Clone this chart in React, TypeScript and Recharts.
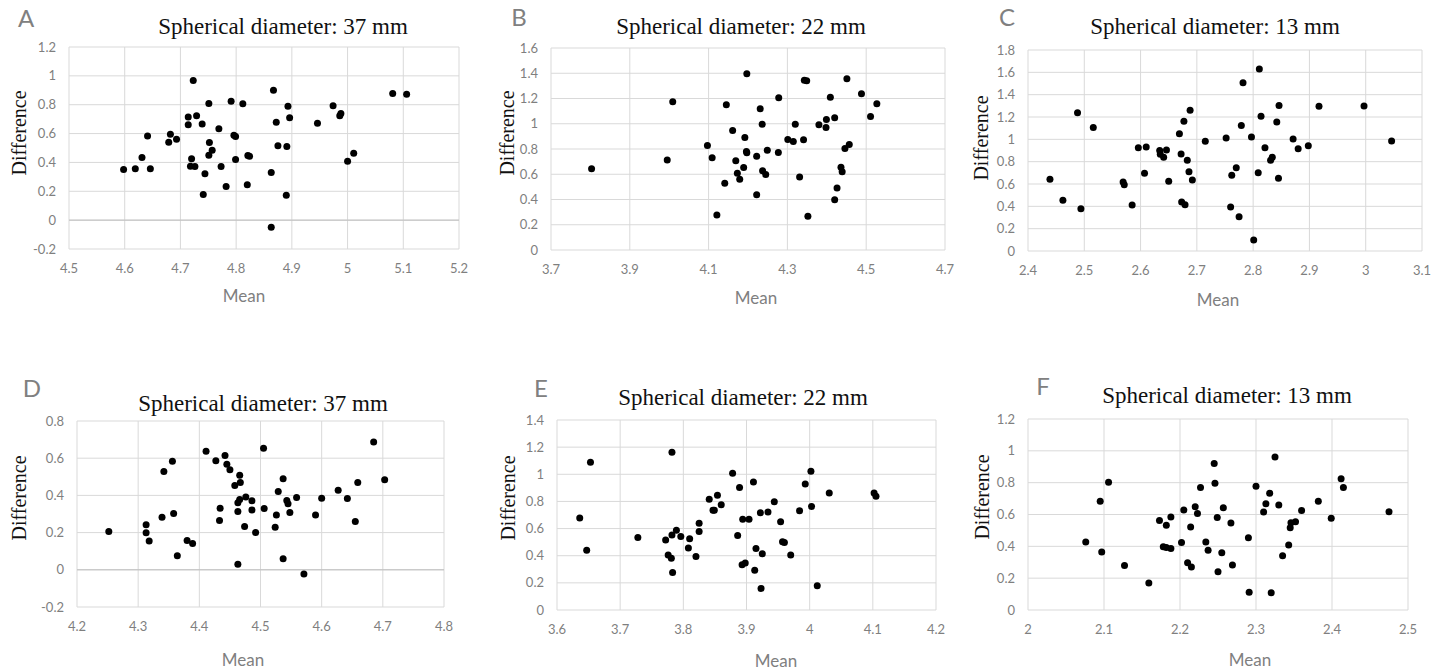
import React from 'react'
import { ScatterChart, Scatter, XAxis, YAxis, CartesianGrid, ReferenceLine } from 'recharts'

// A – 37 mm
const meanA = [4.598, 4.619, 4.631, 4.646, 4.641, 4.682, 4.679, 4.693, 4.714, 4.714, 4.723, 4.729, 4.72, 4.718, 4.726, 4.739, 4.744, 4.741, 4.751, 4.752, 4.757, 4.751, 4.769, 4.773, 4.782, 4.791, 4.796, 4.799, 4.799, 4.812, 4.82, 4.821, 4.824, 4.867, 4.872, 4.875, 4.863, 4.863, 4.891, 4.893, 4.896, 4.89, 4.946, 4.974, 4.986, 4.988, 5.0, 5.011, 5.081, 5.106]
const diffA = [0.351, 0.356, 0.434, 0.356, 0.584, 0.596, 0.54, 0.561, 0.714, 0.661, 0.968, 0.723, 0.425, 0.374, 0.372, 0.667, 0.321, 0.178, 0.808, 0.538, 0.485, 0.45, 0.633, 0.372, 0.233, 0.824, 0.589, 0.58, 0.42, 0.806, 0.245, 0.448, 0.443, 0.9, 0.679, 0.515, 0.33, -0.049, 0.51, 0.79, 0.709, 0.173, 0.672, 0.792, 0.723, 0.739, 0.409, 0.464, 0.878, 0.873]

// B – 22 mm
const meanB = [3.803, 3.995, 4.009, 4.097, 4.109, 4.121, 4.141, 4.145, 4.161, 4.169, 4.173, 4.179, 4.189, 4.192, 4.196, 4.197, 4.197, 4.222, 4.222, 4.231, 4.236, 4.237, 4.245, 4.249, 4.278, 4.277, 4.301, 4.315, 4.32, 4.331, 4.341, 4.343, 4.349, 4.352, 4.38, 4.398, 4.399, 4.409, 4.42, 4.42, 4.426, 4.436, 4.439, 4.446, 4.457, 4.451, 4.488, 4.511, 4.527]
const diffB = [0.643, 0.712, 1.175, 0.828, 0.73, 0.278, 0.529, 1.151, 0.947, 0.706, 0.608, 0.561, 0.653, 0.892, 0.78, 0.77, 1.397, 0.437, 0.743, 1.119, 0.997, 0.627, 0.598, 0.791, 1.206, 0.772, 0.876, 0.86, 0.997, 0.579, 0.873, 1.344, 1.341, 0.267, 0.992, 0.971, 1.034, 1.209, 1.048, 0.399, 0.492, 0.656, 0.619, 0.804, 0.836, 1.357, 1.238, 1.058, 1.159]

// C – 13 mm
const meanC = [2.439, 2.462, 2.488, 2.494, 2.516, 2.569, 2.571, 2.585, 2.596, 2.61, 2.607, 2.634, 2.635, 2.641, 2.646, 2.65, 2.669, 2.672, 2.677, 2.673, 2.679, 2.683, 2.686, 2.688, 2.692, 2.715, 2.752, 2.76, 2.762, 2.77, 2.775, 2.779, 2.782, 2.797, 2.801, 2.809, 2.811, 2.814, 2.821, 2.831, 2.834, 2.842, 2.845, 2.846, 2.871, 2.88, 2.898, 2.917, 2.997, 3.046]
const diffC = [0.642, 0.454, 1.239, 0.379, 1.107, 0.618, 0.594, 0.412, 0.925, 0.931, 0.696, 0.901, 0.866, 0.839, 0.904, 0.624, 1.051, 0.869, 1.161, 0.439, 0.415, 0.812, 0.71, 1.26, 0.636, 0.982, 1.012, 0.394, 0.678, 0.746, 0.307, 1.125, 1.507, 1.021, 0.099, 0.701, 1.63, 1.206, 0.925, 0.812, 0.839, 1.155, 0.651, 1.304, 1.003, 0.916, 0.943, 1.296, 1.299, 0.985]

// D – 37 mm
const meanD = [4.252, 4.313, 4.313, 4.318, 4.339, 4.342, 4.356, 4.358, 4.364, 4.38, 4.389, 4.411, 4.427, 4.434, 4.433, 4.442, 4.445, 4.45, 4.458, 4.466, 4.467, 4.463, 4.466, 4.463, 4.463, 4.474, 4.476, 4.486, 4.486, 4.492, 4.505, 4.506, 4.524, 4.526, 4.529, 4.537, 4.537, 4.543, 4.545, 4.548, 4.559, 4.571, 4.59, 4.6, 4.627, 4.642, 4.655, 4.659, 4.685, 4.703]
const diffD = [0.206, 0.242, 0.199, 0.155, 0.283, 0.529, 0.583, 0.303, 0.075, 0.157, 0.141, 0.637, 0.586, 0.331, 0.265, 0.615, 0.568, 0.538, 0.453, 0.509, 0.47, 0.36, 0.378, 0.313, 0.03, 0.233, 0.392, 0.371, 0.321, 0.2, 0.654, 0.33, 0.229, 0.295, 0.421, 0.489, 0.06, 0.373, 0.355, 0.308, 0.389, -0.022, 0.294, 0.385, 0.428, 0.383, 0.26, 0.47, 0.687, 0.484]

// E – 22 mm
const meanE = [3.636, 3.647, 3.653, 3.728, 3.772, 3.776, 3.781, 3.782, 3.782, 3.783, 3.789, 3.796, 3.808, 3.81, 3.82, 3.825, 3.825, 3.841, 3.847, 3.849, 3.854, 3.86, 3.878, 3.886, 3.889, 3.893, 3.898, 3.894, 3.904, 3.911, 3.913, 3.915, 3.922, 3.923, 3.925, 3.934, 3.944, 3.954, 3.957, 3.96, 3.97, 3.984, 3.993, 4.002, 4.003, 4.012, 4.031, 4.102, 4.105]
const diffE = [0.677, 0.441, 1.089, 0.534, 0.515, 0.405, 0.382, 1.162, 0.552, 0.277, 0.588, 0.542, 0.456, 0.525, 0.395, 0.64, 0.579, 0.816, 0.735, 0.735, 0.846, 0.775, 1.008, 0.549, 0.902, 0.333, 0.346, 0.669, 0.669, 0.944, 0.292, 0.454, 0.716, 0.159, 0.414, 0.723, 0.797, 0.65, 0.503, 0.498, 0.405, 0.731, 0.929, 1.022, 0.762, 0.179, 0.863, 0.863, 0.838]

// F – 13 mm
const meanF = [2.076, 2.095, 2.097, 2.106, 2.127, 2.159, 2.173, 2.178, 2.182, 2.182, 2.188, 2.188, 2.202, 2.205, 2.21, 2.214, 2.215, 2.22, 2.223, 2.227, 2.234, 2.237, 2.245, 2.246, 2.249, 2.25, 2.255, 2.257, 2.267, 2.269, 2.29, 2.291, 2.3, 2.31, 2.313, 2.318, 2.32, 2.325, 2.33, 2.335, 2.343, 2.345, 2.346, 2.352, 2.36, 2.382, 2.399, 2.412, 2.415, 2.475]
const diffF = [0.427, 0.684, 0.364, 0.803, 0.28, 0.169, 0.562, 0.397, 0.533, 0.393, 0.387, 0.585, 0.424, 0.629, 0.297, 0.521, 0.27, 0.648, 0.606, 0.769, 0.427, 0.376, 0.92, 0.797, 0.581, 0.24, 0.36, 0.642, 0.546, 0.282, 0.454, 0.111, 0.778, 0.615, 0.667, 0.734, 0.109, 0.962, 0.659, 0.341, 0.408, 0.516, 0.548, 0.554, 0.625, 0.684, 0.577, 0.824, 0.769, 0.617]

// axis ticks
const xTicksA = [4.5, 4.6, 4.7, 4.8, 4.9, 5.0, 5.1, 5.2]
const yTicksA = [-0.2, 0, 0.2, 0.4, 0.6, 0.8, 1.0, 1.2]
const xTicksB = [3.7, 3.9, 4.1, 4.3, 4.5, 4.7]
const yTicksB = [0, 0.2, 0.4, 0.6, 0.8, 1.0, 1.2, 1.4, 1.6]
const xTicksC = [2.4, 2.5, 2.6, 2.7, 2.8, 2.9, 3.0, 3.1]
const yTicksC = [0, 0.2, 0.4, 0.6, 0.8, 1.0, 1.2, 1.4, 1.6, 1.8]
const xTicksD = [4.2, 4.3, 4.4, 4.5, 4.6, 4.7, 4.8]
const yTicksD = [-0.2, 0, 0.2, 0.4, 0.6, 0.8]
const xTicksE = [3.6, 3.7, 3.8, 3.9, 4.0, 4.1, 4.2]
const yTicksE = [0, 0.2, 0.4, 0.6, 0.8, 1.0, 1.2, 1.4]
const xTicksF = [2.0, 2.1, 2.2, 2.3, 2.4, 2.5]
const yTicksF = [0, 0.2, 0.4, 0.6, 0.8, 1.0, 1.2]

const SANS = 'Lato, "Open Sans", sans-serif'
const SERIF = '"Liberation Serif", "DejaVu Serif", serif'
const GRID = '#d9d9d9'
const TICK = '#7f7f7f'

const fmt = (v: number) => String(Number(v.toFixed(1)))

const pairs = (xs: number[], ys: number[]) => xs.map((x, i) => ({ mean: x, diff: ys[i] }))

interface Panel {
  letter: string
  title: string
  data: { mean: number; diff: number }[]
  xTicks: number[]
  yTicks: number[]
  // plot box in page pixels
  box: [number, number, number, number]
  titleAt: [number, number]
  letterAt: [number, number]
  meanAt: [number, number]
  diffAt: [number, number]
}

const panels: Panel[] = [
  { letter: 'A', title: 'Spherical diameter: 37 mm', data: pairs(meanA, diffA), xTicks: xTicksA, yTicks: yTicksA,
    box: [69, 47, 459, 249], titleAt: [283, 34], letterAt: [26, 27], meanAt: [244, 302], diffAt: [26, 133] },
  { letter: 'B', title: 'Spherical diameter: 22 mm', data: pairs(meanB, diffB), xTicks: xTicksB, yTicks: yTicksB,
    box: [551, 48, 945, 250], titleAt: [741, 34], letterAt: [519, 26], meanAt: [756, 304], diffAt: [514, 133] },
  { letter: 'C', title: 'Spherical diameter: 13 mm', data: pairs(meanC, diffC), xTicks: xTicksC, yTicks: yTicksC,
    box: [1028, 50, 1422, 251], titleAt: [1215, 34], letterAt: [1007, 26], meanAt: [1218, 306], diffAt: [988, 138] },
  { letter: 'D', title: 'Spherical diameter: 37 mm', data: pairs(meanD, diffD), xTicks: xTicksD, yTicks: yTicksD,
    box: [77, 421, 444, 607], titleAt: [263, 411], letterAt: [32, 397], meanAt: [243, 666], diffAt: [26, 498] },
  { letter: 'E', title: 'Spherical diameter: 22 mm', data: pairs(meanE, diffE), xTicks: xTicksE, yTicks: yTicksE,
    box: [557, 420, 936, 610], titleAt: [743, 405], letterAt: [541, 397], meanAt: [776, 667], diffAt: [515, 498] },
  { letter: 'F', title: 'Spherical diameter: 13 mm', data: pairs(meanF, diffF), xTicks: xTicksF, yTicks: yTicksF,
    box: [1028, 419, 1408, 610], titleAt: [1227, 403], letterAt: [1043, 395], meanAt: [1250, 666], diffAt: [989, 497] },
]

const Dot = (p: any) => <circle cx={p.cx} cy={p.cy} r={3.5} fill="#000" />

const Y_W = 60
const X_H = 40
const PAD = 12

function BlandAltman({ p }: { p: Panel }) {
  const [l, t, r, b] = p.box
  const w = r - l + Y_W + PAD
  const h = b - t + X_H + PAD
  const yMin = p.yTicks[0]
  return (
    <div style={{ position: 'absolute', left: l - Y_W, top: t - PAD }}>
      <ScatterChart width={w} height={h} margin={{ top: PAD, right: PAD, bottom: 0, left: 0 }}>
        <CartesianGrid stroke={GRID} strokeWidth={1} />
        <XAxis
          type="number"
          dataKey="mean"
          domain={[p.xTicks[0], p.xTicks[p.xTicks.length - 1]]}
          ticks={p.xTicks}
          tickFormatter={fmt}
          height={X_H}
          axisLine={false}
          tickLine={false}
          tickMargin={9}
          tick={{ fill: TICK, fontSize: 13, fontFamily: SANS }}
          interval={0}
        />
        <YAxis
          type="number"
          dataKey="diff"
          domain={[yMin, p.yTicks[p.yTicks.length - 1]]}
          ticks={p.yTicks}
          tickFormatter={fmt}
          width={Y_W}
          axisLine={false}
          tickLine={false}
          tickMargin={7}
          tick={{ fill: TICK, fontSize: 13, fontFamily: SANS }}
          interval={0}
        />
        {yMin < 0 && <ReferenceLine y={0} stroke="#bfbfbf" strokeWidth={1} />}
        <Scatter data={p.data} shape={Dot} isAnimationActive={false} />
      </ScatterChart>
    </div>
  )
}

export default function App() {
  return (
    <div style={{ position: 'absolute', left: 0, top: 0, width: 1444, height: 670, background: '#fff', overflow: 'hidden' }}>
      {panels.map((p) => (
        <BlandAltman key={p.letter} p={p} />
      ))}
      <svg width={1444} height={670} style={{ position: 'absolute', left: 0, top: 0, pointerEvents: 'none' }}>
        {panels.map((p) => (
          <g key={p.letter}>
            <text x={p.letterAt[0]} y={p.letterAt[1]} textAnchor="middle" fill="#808080" fontFamily={SANS} fontSize={24}>
              {p.letter}
            </text>
            <text x={p.titleAt[0]} y={p.titleAt[1]} textAnchor="middle" fill="#111" fontFamily={SERIF} fontSize={23}>
              {p.title}
            </text>
            <text x={p.meanAt[0]} y={p.meanAt[1]} textAnchor="middle" fill="#7f7f7f" fontFamily={SANS} fontSize={17}>
              Mean
            </text>
            <text
              x={p.diffAt[0]}
              y={p.diffAt[1]}
              textAnchor="middle"
              fill="#111"
              fontFamily={SERIF}
              fontSize={20}
              transform={`rotate(-90 ${p.diffAt[0]} ${p.diffAt[1]})`}
            >
              Difference
            </text>
          </g>
        ))}
      </svg>
    </div>
  )
}
